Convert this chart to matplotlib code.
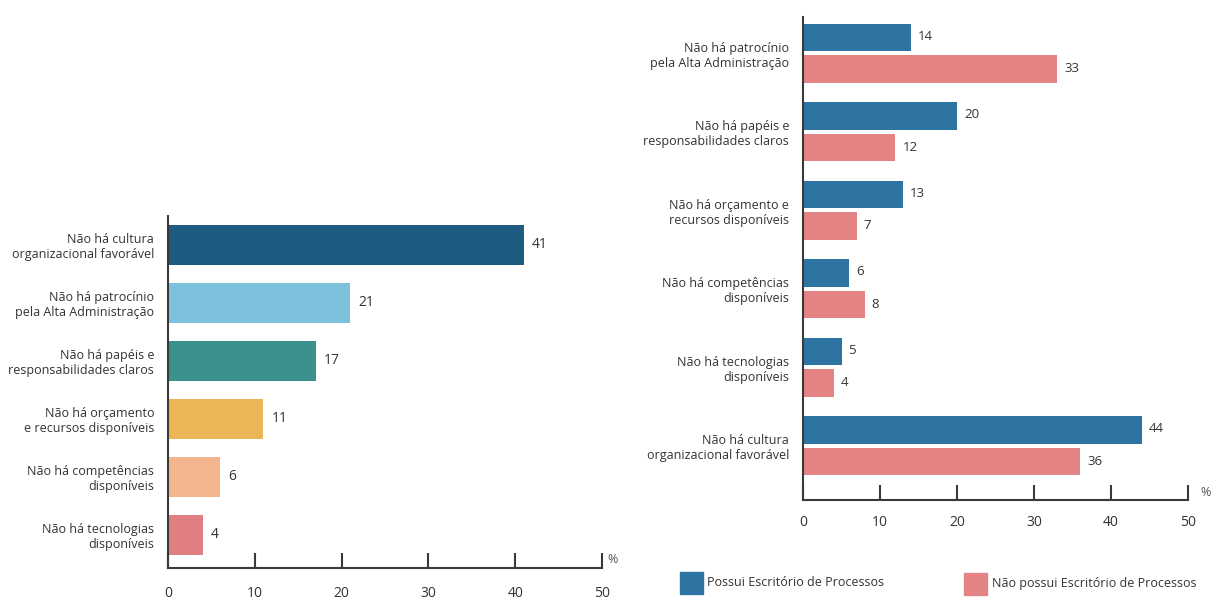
import matplotlib.pyplot as plt
from matplotlib.patches import Rectangle

plt.rcParams['font.family'] = ['Open Sans', 'DejaVu Sans']

# left chart data
left_cats = ["Não há cultura\norganizacional favorável",
             "Não há patrocínio\npela Alta Administração",
             "Não há papéis e\nresponsabilidades claros",
             "Não há orçamento\ne recursos disponíveis",
             "Não há competências\ndisponíveis",
             "Não há tecnologias\ndisponíveis"]
left_vals = [41, 21, 17, 11, 6, 4]
left_colors = ["#1f5a80", "#7cc0dc", "#3b928c", "#ecb556", "#f3b58e", "#e07f82"]

# right chart data
right_cats = ["Não há patrocínio\npela Alta Administração",
              "Não há papéis e\nresponsabilidades claros",
              "Não há orçamento e\nrecursos disponíveis",
              "Não há competências\ndisponíveis",
              "Não há tecnologias\ndisponíveis",
              "Não há cultura\norganizacional favorável"]
possui = [14, 20, 13, 6, 5, 44]
nao_possui = [33, 12, 7, 8, 4, 36]
series_names = ["Possui Escritório de Processos", "Não possui Escritório de Processos"]
blue = "#2e74a3"
pink = "#e48384"

W, H = 1214, 599
fig = plt.figure(figsize=(W / 100, H / 100), dpi=100)


def px_axes(x0, y0, x1, y1):
    return fig.add_axes([x0 / W, 1 - y1 / H, (x1 - x0) / W, (y1 - y0) / H])


def style_axis(ax, pad, pct_xy):
    for s in ["top", "right"]:
        ax.spines[s].set_visible(False)
    for s in ["left", "bottom"]:
        ax.spines[s].set_color("#3a3a3a")
        ax.spines[s].set_linewidth(1.5)
    ax.set_xlim(0, 50)
    ax.set_xticks([0, 10, 20, 30, 40, 50])
    ax.tick_params(axis="x", direction="in", length=11, width=1.5, color="#3a3a3a",
                   pad=pad, labelsize=10, labelcolor="#333333")
    ax.tick_params(axis="y", length=0, pad=10, labelsize=9, labelcolor="#333333")
    ax.text(pct_xy[0], pct_xy[1], "%", transform=ax.transAxes, fontsize=9,
            color="#555555", va="center", ha="left")


# left chart
ax1 = px_axes(168, 216, 602, 568)
pos = list(range(len(left_vals)))
ax1.barh(pos, left_vals, height=0.69, color=left_colors)
ax1.set_ylim(len(left_vals) - 0.43, -0.5)
ax1.set_yticks(pos)
ax1.set_yticklabels(left_cats, ha="right")
for p, v in zip(pos, left_vals):
    ax1.annotate(str(v), (v, p), xytext=(6, 0), textcoords="offset points",
                 va="center", ha="left", fontsize=10, color="#333333")
style_axis(ax1, 13, (1.012, 0.025))

# right chart
ax2 = px_axes(803, 17, 1188, 500)
bh = 0.35
gpos = list(range(len(possui)))
ax2.barh([g - 0.2 for g in gpos], possui, height=bh, color=blue)
ax2.barh([g + 0.2 for g in gpos], nao_possui, height=bh, color=pink)
ax2.set_ylim(len(possui) - 1 + 0.69, -0.46)
ax2.set_yticks(gpos)
ax2.set_yticklabels(right_cats, ha="right")
for g, v in zip(gpos, possui):
    ax2.annotate(str(v), (v, g - 0.2), xytext=(5, 1), textcoords="offset points",
                 va="center", ha="left", fontsize=9.5, color="#333333")
for g, v in zip(gpos, nao_possui):
    ax2.annotate(str(v), (v, g + 0.2), xytext=(5, 0), textcoords="offset points",
                 va="center", ha="left", fontsize=9.5, color="#333333")
style_axis(ax2, 11, (1.032, 0.015))

# legend
fig.patches.append(Rectangle((680 / W, 1 - 594 / H), 23 / W, 22 / H,
                             transform=fig.transFigure, color=blue))
fig.text(707 / W, 1 - 583 / H, series_names[0], fontsize=9, va="center", color="#333333")
fig.patches.append(Rectangle((964 / W, 1 - 595 / H), 23 / W, 22 / H,
                             transform=fig.transFigure, color=pink))
fig.text(992 / W, 1 - 584 / H, series_names[1], fontsize=9, va="center", color="#333333")

fig.savefig("out.png", dpi=100, facecolor="white")
